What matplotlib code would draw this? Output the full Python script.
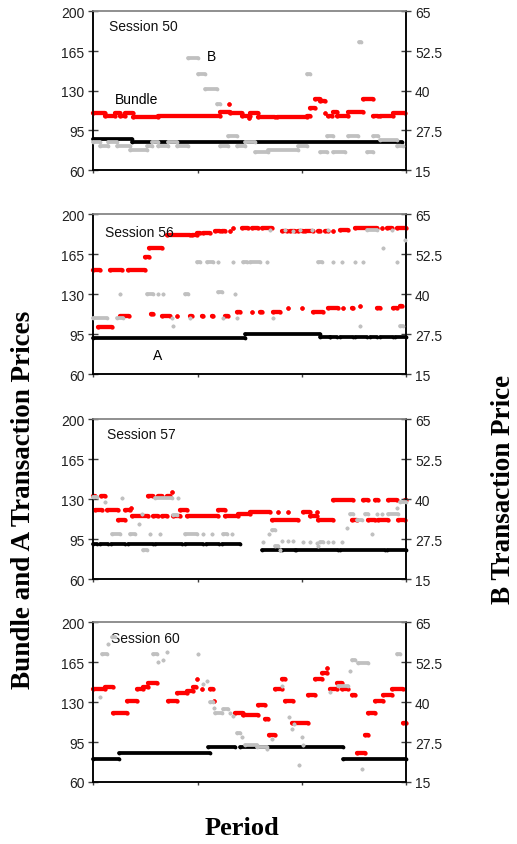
import matplotlib
matplotlib.use("Agg")
import matplotlib.pyplot as plt

# each run: (first period, last period, price) - transactions at a constant price
s50_a = [(0, 3.68, 87), (3.68, 29.6, 85)]
s50_bundle = [(0, 1.12, 110), (1.12, 2.08, 108), (2.08, 2.56, 110), (2.56, 3.04, 108),
              (3.04, 3.84, 110), (3.84, 6.24, 106.5), (6.24, 12.15, 108), (12.15, 13.11, 111.5),
              (13.05, 13.05, 118.5), (13.11, 14.23, 110), (14.23, 15.03, 108), (14.97, 14.97, 106),
              (15.03, 15.83, 110), (15.83, 17.43, 106.5), (17.59, 20.47, 106.5), (20.47, 20.79, 108),
              (20.79, 21.27, 115), (21.27, 21.75, 122.5), (21.75, 22.23, 120.5), (22.23, 22.23, 110),
              (22.55, 22.87, 108), (23.03, 23.35, 111.5), (23.35, 24.47, 108), (24.47, 25.91, 111.5),
              (25.91, 26.87, 122.5), (26.87, 27.35, 108), (27.51, 28.79, 108), (28.79, 29.9, 110)]
s50_b = [(0, 0.64, 23.9), (0.64, 1.44, 22.7), (1.44, 2.24, 23.9), (2.24, 3.52, 22.7),
         (3.52, 5.12, 21.4), (5.12, 5.6, 22.7), (5.6, 6.24, 23.9), (6.24, 7.2, 22.7),
         (7.2, 8.0, 23.9), (8.0, 9.12, 22.7), (9.12, 10.07, 50.4), (10.07, 10.71, 45.4),
         (10.71, 11.83, 40.4), (11.83, 12.15, 35.9), (12.15, 12.95, 22.7), (12.95, 13.75, 25.8),
         (13.75, 14.55, 22.7), (14.55, 15.51, 23.9), (15.51, 16.79, 20.8), (16.79, 19.67, 21.4),
         (19.67, 20.47, 22.7), (20.47, 20.79, 45.4), (21.75, 22.39, 20.8), (22.39, 23.03, 25.8),
         (23.03, 24.15, 20.8), (24.47, 25.43, 25.8), (25.5, 25.7, 55.4), (26.23, 26.87, 20.8),
         (26.8, 27.35, 25.8), (27.51, 29.1, 24.6), (29.1, 29.74, 22.7)]

s56_a = [(0, 14.55, 91.5), (14.55, 21.75, 95.3), (21.75, 22.71, 92), (22.71, 23.35, 92),
         (23.67, 24.95, 92), (25.11, 26.23, 92), (26.55, 27.19, 92), (27.51, 28.79, 92),
         (28.95, 30, 92)]
s56_bundle = [(0, 0.64, 151), (0.48, 1.76, 101), (1.6, 2.72, 151), (2.56, 3.45, 111),
              (3.36, 4.96, 151), (4.96, 5.37, 162), (5.37, 6.56, 170.5), (5.5, 5.76, 112.5),
              (6.56, 7.36, 111), (7.04, 9.27, 181.3), (9.43, 9.91, 181.3), (9.91, 10.23, 183.4),
              (10.55, 11.19, 183.4), (11.67, 12.15, 185), (12.31, 12.63, 185), (13.11, 13.11, 185),
              (13.43, 13.43, 187.8), (14.23, 14.87, 188), (15.26, 15.83, 188), (16.15, 17.11, 188),
              (18.07, 18.55, 185), (18.87, 19.35, 185), (19.67, 20.15, 185), (20.31, 21.11, 185),
              (21.59, 21.75, 185), (22.23, 22.55, 185), (23.03, 23.03, 185), (23.67, 24.47, 186.3),
              (25.11, 27.19, 188), (27.67, 27.67, 188), (28.15, 28.63, 188), (29.1, 30, 188),
              (8.0, 8.0, 111), (9.27, 9.43, 111), (10.39, 10.55, 111), (11.35, 11.51, 111),
              (12.63, 12.95, 111), (13.75, 14.07, 114.6), (15.19, 15.19, 114.6), (15.99, 16.15, 114.6),
              (17.27, 17.91, 114.6), (18.71, 18.71, 118), (19.99, 19.99, 118), (21.11, 22.07, 114.6),
              (22.55, 23.51, 118), (23.99, 23.99, 118), (24.79, 24.95, 118), (25.59, 25.59, 119.8),
              (27.19, 27.51, 118), (28.79, 29.1, 118), (29.42, 29.58, 119.8)]
s56_b = [(0, 1.28, 32.4), (2.24, 2.88, 32.4), (2.56, 2.56, 40), (5.12, 5.76, 40),
         (6.24, 6.24, 40), (6.72, 6.72, 40), (7.52, 7.52, 32.4), (7.68, 7.68, 30.1),
         (8.8, 9.12, 40), (9.27, 9.27, 32.4), (9.91, 10.23, 50.1), (10.87, 11.51, 50.1),
         (11.99, 11.99, 50.1), (11.99, 12.31, 40.5), (12.47, 12.47, 32.4), (13.43, 13.43, 50.1),
         (13.59, 13.59, 40), (13.75, 13.75, 32.4), (14.39, 14.71, 50.1), (15.03, 15.99, 50.1),
         (16.63, 16.63, 50.1), (16.95, 16.95, 60.1), (17.27, 17.27, 32.4), (18.39, 18.39, 60.1),
         (19.19, 19.19, 59.6), (19.83, 19.83, 60.1), (20.95, 20.95, 60.1), (21.59, 21.91, 50.1),
         (22.55, 22.55, 60.1), (23.03, 23.03, 50.1), (23.83, 23.83, 50.1), (25.11, 25.11, 50.1),
         (25.59, 25.59, 30.1), (25.91, 25.91, 50.1), (26.23, 27.19, 60.1), (27.83, 27.83, 54.5),
         (28.63, 28.63, 60.1), (29.1, 29.1, 50.1), (29.42, 29.74, 30.1), (29.9, 29.9, 57)]

s57_a = [(0, 0.32, 90.9), (0.64, 1.44, 90.9), (1.66, 3.04, 90.9), (3.36, 5.76, 90.9),
         (5.92, 8.48, 90.9), (8.8, 10.55, 90.9), (10.81, 12.09, 90.9), (12.38, 14.07, 90.9),
         (16.15, 17.91, 85.7), (18.07, 19.35, 85.7), (19.45, 23.51, 85.7), (23.67, 27.99, 85.7),
         (28.15, 30, 85.7)]
s57_bundle = [(0, 0.16, 133), (0.16, 0.8, 120.7), (0.7, 1.12, 133), (1.28, 2.4, 120.7),
              (2.4, 3.04, 112), (3.04, 3.52, 120.7), (3.58, 3.58, 122.5), (3.68, 5.28, 115.5),
              (5.28, 5.76, 133), (5.76, 6.24, 115.5), (6.24, 6.56, 133), (6.56, 7.04, 115.5),
              (7.04, 7.36, 133), (7.52, 7.52, 136.4), (7.68, 8.32, 115.5), (8.32, 8.96, 120.7),
              (8.96, 11.99, 115.5), (11.99, 12.63, 120.7), (12.63, 13.91, 115.5), (13.91, 15.03, 117.2),
              (15.03, 16.95, 119), (17.11, 19.67, 112), (17.75, 17.75, 119), (18.71, 18.71, 119),
              (20.15, 20.79, 119), (20.79, 21.43, 115.5), (21.43, 21.43, 119), (21.59, 23.03, 112),
              (23.03, 24.95, 129.4), (24.79, 25.27, 112), (25.91, 26.39, 129.4), (26.39, 27.03, 112),
              (27.03, 27.35, 129.4), (27.35, 28.31, 112), (28.31, 29.1, 129.4), (29.26, 29.9, 112),
              (29.9, 30, 129.4)]
s57_b = [(0, 0.32, 40.5), (1.12, 1.12, 39.2), (1.76, 2.56, 29.2), (2.72, 2.72, 40.4),
         (3.52, 4.0, 29.2), (4.41, 4.41, 32.3), (4.64, 4.64, 35.4), (4.8, 5.12, 24.2),
         (5.44, 5.44, 29.2), (5.92, 7.52, 40.4), (6.4, 6.4, 29.2), (7.68, 8.0, 35),
         (8.16, 8.16, 40.4), (8.8, 9.91, 29.2), (10.55, 10.55, 29.2), (11.35, 11.35, 29.2),
         (12.47, 12.79, 29.2), (13.27, 13.27, 29.2), (16.31, 16.31, 26.7), (16.89, 16.89, 29.2),
         (17.11, 17.43, 30.4), (17.43, 17.75, 25.4), (17.91, 17.91, 24.2), (18.07, 18.07, 26.9),
         (18.71, 18.71, 26.9), (19.19, 19.19, 26.9), (20.15, 20.15, 26.7), (20.79, 20.79, 26.7),
         (21.43, 21.43, 26.1), (21.59, 21.59, 25.4), (21.75, 22.07, 26.7), (22.55, 22.55, 26.7),
         (23.03, 23.03, 26.7), (23.83, 23.83, 26.7), (24.31, 24.31, 31), (24.63, 24.95, 35.4),
         (25.27, 25.75, 33.5), (26.07, 26.39, 35.4), (26.71, 26.71, 29.2), (27.19, 27.19, 35.4),
         (27.67, 27.67, 35.4), (28.31, 29.26, 35.4), (29.1, 29.1, 37.3), (29.42, 30, 39.2)]

s60_a = [(0, 2.49, 79.8), (2.49, 11.19, 85.1), (11.03, 13.59, 90.4), (14.07, 23.99, 90.4),
         (23.99, 30, 79.8)]
s60_bundle = [(0, 1.12, 141.4), (1.12, 1.92, 142.9), (1.92, 3.2, 120.1), (3.2, 4.16, 130.6),
              (4.16, 4.8, 141.4), (4.8, 5.28, 143), (5.28, 6.08, 146.6), (7.2, 8.0, 130.6),
              (8.0, 8.96, 137.9), (8.96, 9.59, 139.6), (9.59, 9.85, 143), (9.98, 9.98, 149.9),
              (10.39, 10.39, 141.4), (11.19, 11.51, 141.4), (11.58, 11.58, 130.6), (13.59, 14.39, 120.1),
              (14.39, 15.83, 118.4), (15.83, 16.47, 127.1), (16.47, 16.79, 114.9), (16.85, 17.43, 100.9),
              (17.43, 18.07, 141.4), (18.07, 18.39, 149.9), (18.39, 19.19, 130.6), (19.03, 20.63, 111.4),
              (20.63, 21.27, 135.9), (21.27, 21.91, 149.9), (21.91, 22.39, 155.1), (22.45, 22.45, 160.3),
              (22.71, 23.35, 141.4), (23.35, 23.83, 146.6), (23.83, 24.47, 141.4), (24.79, 25.11, 135.9),
              (25.27, 26.07, 85.4), (26.07, 26.39, 100.9), (26.39, 27.03, 120.1), (27.03, 27.83, 130.6),
              (27.83, 28.63, 135.9), (28.63, 29.74, 141.4), (29.74, 30, 111.4)]
s60_b = [(0.64, 0.64, 41.5), (0.8, 1.28, 55.2), (1.44, 1.44, 58.3), (1.76, 2.08, 60.4),
         (5.76, 6.08, 55.2), (6.24, 6.24, 52.7), (6.72, 6.72, 53.3), (7.04, 7.04, 55.8),
         (10.07, 10.07, 55.2), (10.55, 10.55, 45.8), (10.94, 10.94, 46.5), (11.19, 11.51, 40),
         (11.58, 11.58, 38.3), (11.67, 12.31, 36.5), (12.47, 12.95, 37.7), (13.11, 13.11, 36.5),
         (13.43, 13.43, 35.8), (13.75, 14.07, 30.2), (14.23, 14.23, 29), (14.55, 15.67, 26.5),
         (15.67, 16.63, 26), (16.63, 16.63, 25.4), (17.11, 17.11, 28.5), (18.07, 18.07, 45.2),
         (18.81, 18.81, 35.2), (19.03, 19.03, 31.5), (19.25, 19.25, 33.3), (19.77, 19.77, 20.2),
         (19.99, 19.99, 29), (20.15, 20.15, 26.5), (22.71, 22.71, 43.3), (23.51, 24.47, 45.2),
         (24.63, 24.63, 49.6), (24.79, 25.11, 53.3), (25.43, 26.39, 52.1), (25.75, 25.75, 19),
         (29.1, 29.42, 55.2)]

sessions = ["Session 50", "Session 56", "Session 57", "Session 60"]
a_runs = [s50_a, s56_a, s57_a, s60_a]
bundle_runs = [s50_bundle, s56_bundle, s57_bundle, s60_bundle]
b_runs = [s50_b, s56_b, s57_b, s60_b]

left_ticks = [60, 95, 130, 165, 200]
right_ticks = [15, 27.5, 40, 52.5, 65]
right_labels = ["15", "27.5", "40", "52.5", "65"]
period_ticks = [0, 10, 20, 30]

plt.rcParams['font.family'] = ['Liberation Sans', 'DejaVu Sans']

RED = '#ff0000'
GRAY = '#c0c0c0'


def draw_runs(ax, runs, color, size, z):
    for x0, x1, v in runs:
        ax.plot([x0, x1], [v, v], '-o', color=color, lw=size, ms=size,
                solid_capstyle='round', markeredgewidth=0, zorder=z, clip_on=False)


def style_axis(ax, tw):
    ax.set_xlim(0, 30)
    ax.set_ylim(60, 200)
    tw.set_ylim(15, 65)
    ax.set_xticks(period_ticks)
    ax.set_xticklabels([])
    ax.set_yticks(left_ticks)
    ax.set_yticklabels([str(t) for t in left_ticks])
    tw.set_yticks(right_ticks)
    tw.set_yticklabels(right_labels)
    ax.tick_params(axis='x', direction='out', length=2.5, width=1, color='#404040')
    ax.tick_params(axis='y', direction='inout', length=7, width=1, pad=3, labelsize=10,
                   color='#404040', labelcolor='#202020')
    tw.tick_params(axis='y', direction='inout', length=7, width=1, pad=3, labelsize=10,
                   color='#404040', labelcolor='#202020')
    for a in (ax, tw):
        a.spines['left'].set_color('black')
        a.spines['right'].set_color('black')
        a.spines['bottom'].set_color('black')
        a.spines['top'].set_color('#8c8c8c')
        for s in a.spines.values():
            s.set_linewidth(1.1)


fig = plt.figure(figsize=(5.17, 8.45), dpi=100)
panel_bottoms = [0.7976, 0.5562, 0.3136, 0.0734]
panel_heights = [0.1878, 0.1893, 0.1893, 0.189]
session_pos = [(0.05, 0.907), (0.037, 0.8875), (0.044, 0.906), (0.057, 0.90)]

for i in range(4):
    ax = fig.add_axes([0.1805, panel_bottoms[i], 0.6048, panel_heights[i]])
    tw = ax.twinx()
    style_axis(ax, tw)
    draw_runs(ax, a_runs[i], 'black', 2.7, 3)
    draw_runs(ax, bundle_runs[i], RED, 3.1, 4)
    draw_runs(tw, b_runs[i], GRAY, 2.7, 3)
    ax.text(session_pos[i][0], session_pos[i][1], sessions[i], transform=ax.transAxes,
            fontsize=10, ha='left', va='center', color='#111111', zorder=10)
    if i == 0:
        ax.text(10.9, 160.6, "B", fontsize=10, ha='left', va='center')
        ax.text(2.08, 122.7, "Bundle", fontsize=10, ha='left', va='center')
    if i == 1:
        ax.text(5.73, 76.6, "A", fontsize=10, ha='left', va='center')

serif = ['Liberation Serif', 'DejaVu Serif']
fig.text(24 / 517, 1 - 500 / 845, "Bundle and A Transaction Prices", rotation=90,
         family=serif, fontweight='bold', fontsize=19.5, ha='center', va='center')
fig.text(503 / 517, 1 - 489 / 845, "B Transaction Price", rotation=90,
         family=serif, fontweight='bold', fontsize=19.5, ha='center', va='center')
fig.text(241.7 / 517, 1 - 829 / 845, "Period", family=serif, fontweight='bold',
         fontsize=19, ha='center', va='center')

fig.savefig("out.png", dpi=100)
